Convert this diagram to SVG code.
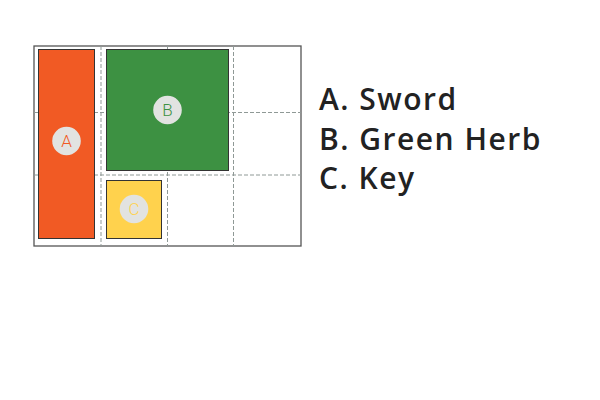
<svg xmlns="http://www.w3.org/2000/svg" width="600" height="400" viewBox="0 0 600 400">
<style>
.grid{stroke:#8f9996;stroke-width:1;stroke-dasharray:4 2;fill:none}
.frame{fill:#fff;stroke:#555;stroke-width:1.3}
.item{stroke:#333;stroke-width:1}
.badge{fill:#e2e3e1}
.bl{font-family:Roboto,"Liberation Sans",sans-serif;font-size:17px;font-weight:300;text-anchor:middle;dominant-baseline:central}
.leg{font-family:"Open Sans","Liberation Sans",sans-serif;font-size:30px;font-weight:600;letter-spacing:1.5px;fill:#222}
</style>
<rect class="frame" x="34" y="46" width="267" height="200"/>
<g id="grid">
<line class="grid" x1="101" y1="46" x2="101" y2="246"/>
<line class="grid" x1="167.5" y1="46" x2="167.5" y2="246"/>
<line class="grid" x1="233.5" y1="46" x2="233.5" y2="246"/>
<line class="grid" x1="34" y1="112.5" x2="301" y2="112.5"/>
<line class="grid" x1="34" y1="175" x2="301" y2="175"/>
</g>
<g id="A">
<rect class="item" x="38.5" y="49.5" width="56" height="189" fill="#f15a24"/>
<circle class="badge" cx="66.5" cy="141" r="14.3"/>
<text class="bl" x="66.5" y="141" fill="#f15a24">A</text>
</g>
<g id="B">
<rect class="item" x="106.5" y="49.5" width="122" height="121" fill="#3d9142"/>
<circle class="badge" cx="167.5" cy="110" r="14.3"/>
<text class="bl" x="167.5" y="110" fill="#3d9142">B</text>
</g>
<g id="C">
<rect class="item" x="106.5" y="180.5" width="55" height="58" fill="#ffd24d"/>
<circle class="badge" cx="134" cy="209" r="14.3"/>
<text class="bl" x="134" y="209" fill="#ffd24d">C</text>
</g>
<g id="legend">
<text class="leg" x="319" y="109.5">A. Sword</text>
<text class="leg" x="319" y="149.5">B. Green Herb</text>
<text class="leg" x="319" y="189">C. Key</text>
</g>
</svg>
